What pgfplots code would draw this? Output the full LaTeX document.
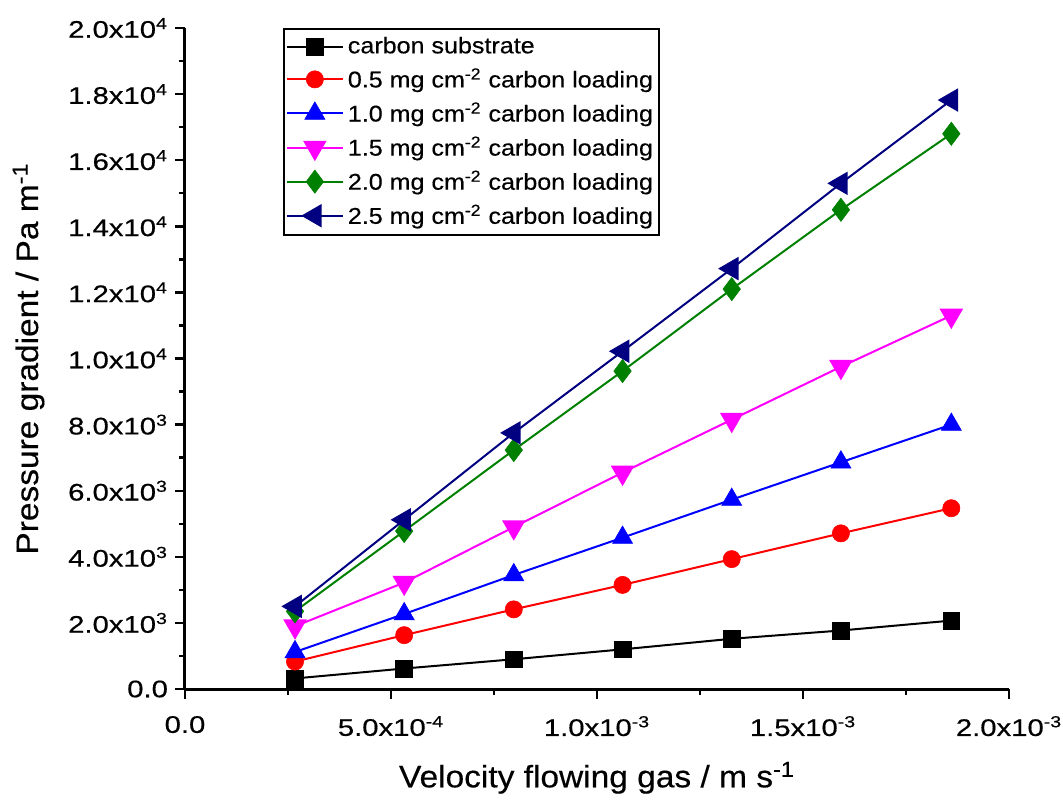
\documentclass[border=0pt]{standalone}
\usepackage{fontspec}
\setmainfont[FakeStretch=1.08, FakeBold=0.4]{Liberation Sans}
\newfontfamily\tickfont[FakeStretch=1.22, FakeBold=0.5]{Liberation Sans}
\newfontfamily\legfont[FakeStretch=1.1, FakeBold=0.4]{Liberation Sans}
\usepackage{pgfplots}
\pgfplotsset{compat=1.18}
\definecolor{navyc}{RGB}{0,0,128}
\definecolor{greenc}{RGB}{0,128,0}
\definecolor{magc}{RGB}{255,0,255}
\definecolor{redc}{RGB}{255,0,0}
\definecolor{bluec}{RGB}{0,0,255}
\begin{document}
\begin{tikzpicture}
\useasboundingbox (-92.5pt,-55.5pt) rectangle (439pt,344.5pt);
\begin{axis}[
  at={(0pt,0pt)}, anchor=south west,
  scale only axis,
  width=412pt, height=330.5pt,
  xmin=0, xmax=2e-3, ymin=0, ymax=20000,
  axis x line=bottom, axis y line=left,
  axis line style={-, line width=1.5pt},
  every tick/.style={black, line width=1.2pt},
  tick align=outside,
  major tick length=5pt, minor tick length=3pt,
  minor tick num=1,
  xtick={0,5e-4,1e-3,1.5e-3,2e-3},
  xticklabels={0.0,5.0x10\textsuperscript{-4},1.0x10\textsuperscript{-3},1.5x10\textsuperscript{-3},2.0x10\textsuperscript{-3}},
  ytick={0,2000,4000,6000,8000,10000,12000,14000,16000,18000,20000},
  yticklabels={0.0,2.0x10\textsuperscript{3},4.0x10\textsuperscript{3},6.0x10\textsuperscript{3},8.0x10\textsuperscript{3},1.0x10\textsuperscript{4},1.2x10\textsuperscript{4},1.4x10\textsuperscript{4},1.6x10\textsuperscript{4},1.8x10\textsuperscript{4},2.0x10\textsuperscript{4}},
  scaled ticks=false,
  tick label style={font=\tickfont\fontsize{12}{14}\selectfont},
  xticklabel style={yshift=-5pt},
  xlabel={Velocity flowing gas / m s\textsuperscript{-1}},
  ylabel={Pressure gradient / Pa m\textsuperscript{-1}},
  label style={font=\fontsize{15.5}{18}\selectfont},
  xlabel style={yshift=-6pt},
  ylabel style={yshift=5pt},
  legend style={at={(0.119,1.0)}, anchor=north west, draw=black, line width=0.8pt,
    font=\legfont\fontsize{11.4}{13}\selectfont, row sep=2pt, inner xsep=1pt, inner ysep=2pt},
  legend cell align=left,
  legend image code/.code={\draw[#1] (0pt,0pt) -- (28pt,0pt); \draw[#1, mark repeat=2, mark phase=2] plot coordinates {(0pt,0pt) (14pt,0pt) (28pt,0pt)};},
  every axis plot/.append style={line width=1pt, mark options={solid, line width=0.3pt}},
  clip=false,
]
\addplot[black, mark=square*, mark size=4.2pt] coordinates {
(2.67e-4,320) (5.32e-4,620) (7.98e-4,900) (1.062e-3,1200) (1.327e-3,1520) (1.592e-3,1770) (1.860e-3,2070)};
\addlegendentry{carbon substrate}
\addplot[redc, mark=*, mark size=4.3pt] coordinates {
(2.67e-4,830) (5.32e-4,1630) (7.98e-4,2410) (1.062e-3,3150) (1.327e-3,3930) (1.592e-3,4710) (1.860e-3,5470)};
\addlegendentry{0.5 mg cm\textsuperscript{-2} carbon loading}
\addplot[bluec, mark=triangle*, mark size=5.8pt] coordinates {
(2.67e-4,1120) (5.32e-4,2270) (7.98e-4,3450) (1.062e-3,4580) (1.327e-3,5730) (1.592e-3,6860) (1.860e-3,8000)};
\addlegendentry{1.0 mg cm\textsuperscript{-2} carbon loading}
\addplot[magc, mark=triangle*, mark size=5.8pt, mark options={rotate=180}] coordinates {
(2.67e-4,1900) (5.32e-4,3220) (7.98e-4,4900) (1.062e-3,6550) (1.327e-3,8150) (1.592e-3,9750) (1.860e-3,11300)};
\addlegendentry{1.5 mg cm\textsuperscript{-2} carbon loading}
\addplot[greenc, mark=diamond*, mark size=5.8pt] coordinates {
(2.67e-4,2350) (5.32e-4,4780) (7.98e-4,7230) (1.062e-3,9620) (1.327e-3,12100) (1.592e-3,14500) (1.860e-3,16800)};
\addlegendentry{2.0 mg cm\textsuperscript{-2} carbon loading}
\addplot[navyc, mark=triangle*, mark size=5.8pt, mark options={rotate=90}] coordinates {
(2.67e-4,2500) (5.32e-4,5120) (7.98e-4,7750) (1.062e-3,10220) (1.327e-3,12720) (1.592e-3,15300) (1.860e-3,17820)};
\addlegendentry{2.5 mg cm\textsuperscript{-2} carbon loading}
\end{axis}
\end{tikzpicture}
\end{document}
